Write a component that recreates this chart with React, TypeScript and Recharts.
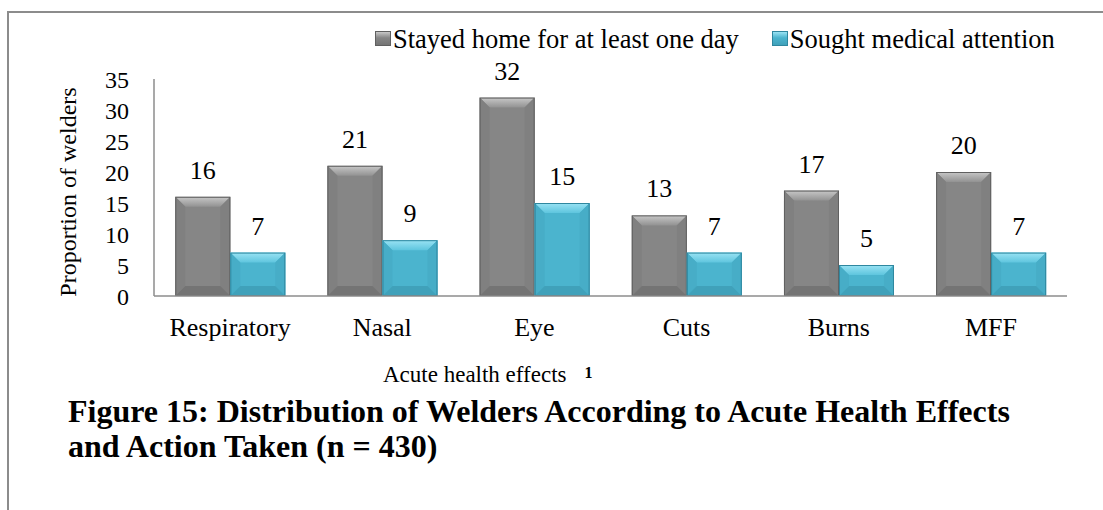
import React from 'react';
import { BarChart, Bar, XAxis, YAxis, Legend, LabelList } from 'recharts';

const categories = ['Respiratory', 'Nasal', 'Eye', 'Cuts', 'Burns', 'MFF'];
const stayedHome = [16, 21, 32, 13, 17, 20];
const soughtMedical = [7, 9, 15, 7, 5, 7];
const yTicks = [0, 5, 10, 15, 20, 25, 30, 35];

const SERIES_STAYED = 'Stayed home for at least one day';
const SERIES_SOUGHT = 'Sought medical attention';
const SERIES_ORDER = [SERIES_STAYED, SERIES_SOUGHT];

const FONT = '"Liberation Serif", "Times New Roman", serif';

interface Tone {
  id: string;
  base: string;
  topHi: string;
  topLo: string;
  side: string;
  bottom: string;
  edge: string;
}

const GRAY: Tone = {
  id: 'bev-gray',
  base: '#868686',
  topHi: '#c8c8c8',
  topLo: '#929292',
  side: '#808080',
  bottom: '#747474',
  edge: '#606060',
};

const BLUE: Tone = {
  id: 'bev-blue',
  base: '#4bb4ce',
  topHi: '#9ae3f4',
  topLo: '#5ec5de',
  side: '#47adc7',
  bottom: '#40a1ba',
  edge: '#2f879f',
};

const data = categories.map((name, i) => ({
  name,
  stayed: stayedHome[i],
  sought: soughtMedical[i],
}));

// bar with a bevelled look like the office chart
function BevelBar(props: any) {
  const { x, y, width, height, tone } = props as { x: number; y: number; width: number; height: number; tone: Tone };
  if (!height || height <= 0) return null;
  const b = Math.min(10, height / 2, width / 2);
  const x2 = x + width;
  const y2 = y + height;
  return (
    <g>
      <defs>
        <linearGradient id={`${tone.id}-top`} x1="0" y1="0" x2="0" y2="1">
          <stop offset="0%" stopColor={tone.topHi} />
          <stop offset="100%" stopColor={tone.topLo} />
        </linearGradient>
      </defs>
      <rect x={x} y={y} width={width} height={height} fill={tone.base} />
      <polygon points={`${x},${y} ${x2},${y} ${x2 - b},${y + b} ${x + b},${y + b}`} fill={`url(#${tone.id}-top)`} />
      <polygon points={`${x},${y} ${x + b},${y + b} ${x + b},${y2 - b} ${x},${y2}`} fill={tone.side} />
      <polygon points={`${x2},${y} ${x2 - b},${y + b} ${x2 - b},${y2 - b} ${x2},${y2}`} fill={tone.side} />
      <polygon points={`${x},${y2} ${x + b},${y2 - b} ${x2 - b},${y2 - b} ${x2},${y2}`} fill={tone.bottom} />
      <rect x={x + 0.5} y={y + 0.5} width={width - 1} height={height - 1} fill="none" stroke={tone.edge} strokeWidth={1} />
    </g>
  );
}

function LegendSwatch({ tone }: { tone: Tone }) {
  return (
    <span
      style={{
        display: 'inline-block',
        width: 16,
        height: 15,
        boxSizing: 'border-box',
        border: `1px solid ${tone.edge}`,
        background: `linear-gradient(180deg, ${tone.topHi} 0%, ${tone.base} 45%, ${tone.bottom} 100%)`,
        marginRight: 2,
        verticalAlign: 'middle',
        position: 'relative',
        top: -3,
      }}
    />
  );
}

function LegendContent(props: any) {
  const payload = [...(props.payload || [])].sort(
    (a: any, b: any) => SERIES_ORDER.indexOf(a.value) - SERIES_ORDER.indexOf(b.value),
  );
  return (
    <div style={{ display: 'flex', whiteSpace: 'nowrap', fontFamily: FONT, fontSize: 26.5, lineHeight: '30px', color: '#000' }}>
      {payload.map((entry: any, i: number) => (
        <span key={entry.value} style={{ marginLeft: i === 0 ? 0 : 33 }}>
          <LegendSwatch tone={entry.value === SERIES_STAYED ? GRAY : BLUE} />
          {entry.value}
        </span>
      ))}
    </div>
  );
}

export default function App() {
  return (
    <div style={{ position: 'absolute', left: 0, top: 0, width: 1103, height: 510, background: '#fff', overflow: 'hidden', fontFamily: FONT }}>
      {/* frame around the figure */}
      <div
        style={{
          position: 'absolute',
          left: 7,
          top: 11,
          right: -4,
          bottom: -4,
          borderTop: '2px solid #8c8c8c',
          borderLeft: '2px solid #8c8c8c',
        }}
      />

      <div style={{ position: 'absolute', left: 0, top: 0 }}>
        <BarChart
          width={1103}
          height={510}
          data={data}
          margin={{ top: 79, right: 36, left: 90, bottom: 174 }}
          barCategoryGap="14%"
          barGap={0}
        >
          <XAxis
            dataKey="name"
            height={40}
            axisLine={{ stroke: '#8c8c8c', strokeWidth: 1.5 }}
            tickLine={false}
            tickMargin={16}
            tick={{ fontSize: 26, fill: '#000', fontFamily: FONT }}
            interval={0}
          />
          <YAxis
            width={64}
            domain={[0, 35]}
            ticks={yTicks}
            interval={0}
            axisLine={{ stroke: '#8c8c8c', strokeWidth: 1.5 }}
            tickLine={false}
            tickMargin={19}
            tick={{ fontSize: 24, fill: '#000', fontFamily: FONT }}
          />
          <Legend
            verticalAlign="middle"
            layout="horizontal"
            content={<LegendContent />}
            wrapperStyle={{ top: 24, left: 375, width: 'auto' }}
          />
          <Bar
            dataKey="stayed"
            name={SERIES_STAYED}
            fill={GRAY.base}
            isAnimationActive={false}
            shape={(p: any) => <BevelBar {...p} tone={GRAY} />}
          >
            <LabelList dataKey="stayed" position="top" offset={18} fill="#000" fontSize={26} fontFamily={FONT} />
          </Bar>
          <Bar
            dataKey="sought"
            name={SERIES_SOUGHT}
            fill={BLUE.base}
            isAnimationActive={false}
            shape={(p: any) => <BevelBar {...p} tone={BLUE} />}
          >
            <LabelList dataKey="sought" position="top" offset={18} fill="#000" fontSize={26} fontFamily={FONT} />
          </Bar>
        </BarChart>
      </div>

      {/* y axis title */}
      <div
        style={{
          position: 'absolute',
          left: 68,
          top: 192,
          transform: 'translate(-50%, -50%) rotate(-90deg)',
          whiteSpace: 'nowrap',
          fontSize: 24,
          lineHeight: '24px',
          color: '#000',
        }}
      >
        Proportion of welders
      </div>

      {/* x axis title */}
      <div style={{ position: 'absolute', left: 383, top: 363, fontSize: 23, lineHeight: '23px', whiteSpace: 'nowrap', color: '#000' }}>
        Acute health effects
        <sup style={{ fontSize: 16, fontWeight: 'bold', verticalAlign: 'top', position: 'relative', top: -2, marginLeft: 18 }}>1</sup>
      </div>

      {/* figure caption */}
      <div
        style={{
          position: 'absolute',
          left: 68,
          top: 394,
          width: 1000,
          fontSize: 32,
          lineHeight: '35px',
          fontWeight: 'bold',
          color: '#000',
        }}
      >
        Figure 15: Distribution of Welders According to Acute Health Effects
        <br />
        and Action Taken (n = 430)
      </div>
    </div>
  );
}
